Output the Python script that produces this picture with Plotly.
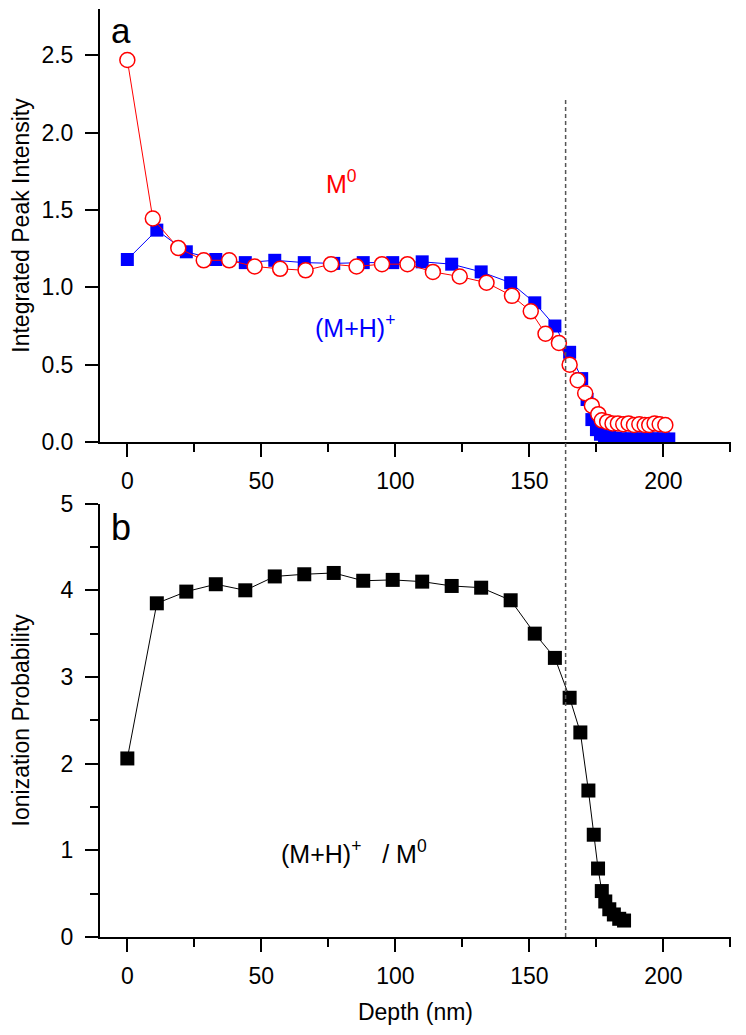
import plotly.graph_objects as go

# ---- data ----
depth_mh = [0, 11, 22, 33, 44, 55, 66, 77, 88, 99, 110, 121, 132, 143, 152, 159.5, 165, 169.5,
            171.5, 173.3, 175, 176.5, 178, 180, 182, 184, 186, 188, 190, 192, 194, 196, 198, 200, 202]
int_mh = [1.18, 1.37, 1.23, 1.18, 1.16, 1.175, 1.16, 1.155, 1.16, 1.16, 1.165, 1.15, 1.10, 1.03,
          0.90, 0.75, 0.58, 0.41, 0.275, 0.145, 0.08, 0.05, 0.035, 0.03, 0.025, 0.02, 0.02, 0.02,
          0.02, 0.02, 0.02, 0.02, 0.02, 0.02, 0.02]

depth_m0 = [0, 9.5, 19, 28.5, 38, 47.5, 57, 66.5, 76, 85.5, 95, 104.5, 114, 124, 134, 143.5, 150.5,
            156, 161, 165, 168, 170.8, 173.3, 175.7, 177, 179, 181, 183, 185, 187, 189, 191, 193,
            194.7, 196.7, 198.6, 200.7]
int_m0 = [2.47, 1.445, 1.255, 1.175, 1.175, 1.135, 1.12, 1.11, 1.15, 1.135, 1.15, 1.15, 1.10, 1.07,
          1.03, 0.945, 0.845, 0.70, 0.64, 0.50, 0.40, 0.315, 0.235, 0.18, 0.14, 0.13, 0.12, 0.12,
          0.115, 0.12, 0.11, 0.115, 0.11, 0.11, 0.12, 0.115, 0.11]

depth_ratio = [0, 11, 22, 33, 44, 55, 66, 77, 88, 99, 110, 121, 132, 143, 152, 159.5, 165, 169,
               172, 174, 175.6, 177, 178.3, 179.8, 181.5, 183.5, 185.3]
ratio = [2.06, 3.85, 3.985, 4.07, 4.0, 4.16, 4.185, 4.2, 4.11, 4.12, 4.10, 4.05, 4.03, 3.885, 3.50,
         3.22, 2.76, 2.36, 1.69, 1.18, 0.79, 0.53, 0.41, 0.32, 0.26, 0.21, 0.19]

interface_depth = 163.5
x_ticks = [0, 50, 100, 150, 200]
y1_ticks = [0.0, 0.5, 1.0, 1.5, 2.0, 2.5]
y2_ticks = [0, 1, 2, 3, 4, 5]

REG = "Liberation Sans, Arial, Helvetica, sans-serif"

fig = go.Figure()
fig.add_trace(go.Scatter(x=depth_mh, y=int_mh, mode="lines+markers", xaxis="x", yaxis="y",
                         line=dict(color="#0000FF", width=1),
                         marker=dict(symbol="square", size=13, color="#0000FF", line=dict(width=0)),
                         showlegend=False))
fig.add_trace(go.Scatter(x=depth_m0, y=int_m0, mode="lines+markers", xaxis="x", yaxis="y",
                         line=dict(color="#FF0000", width=1),
                         marker=dict(symbol="circle", size=15, color="white",
                                     line=dict(color="#FF0000", width=1.5)),
                         showlegend=False))
fig.add_trace(go.Scatter(x=depth_ratio, y=ratio, mode="lines+markers", xaxis="x2", yaxis="y2",
                         line=dict(color="black", width=1),
                         marker=dict(symbol="square", size=14, color="black", line=dict(width=0)),
                         showlegend=False))

axis_common = dict(showline=True, linecolor="black", linewidth=2, ticks="outside", ticklen=13,
                   tickwidth=2, tickcolor="black", showgrid=False, zeroline=False,
                   automargin=False,
                   tickfont=dict(family=REG, size=23, color="black"))
minor_x = dict(ticks="outside", ticklen=8, tickwidth=2, tickcolor="black", dtick=25, tick0=0)

fig.update_layout(
    width=738, height=1027,
    margin=dict(l=92, r=15, t=1, b=98),
    paper_bgcolor="white", plot_bgcolor="white",
    font=dict(family=REG, color="black"),
    xaxis=dict(domain=[0, 1], range=[-10.2, 225.2], anchor="y", tickvals=x_ticks,
               minor=minor_x, ticklabelstandoff=4, **axis_common),
    yaxis=dict(domain=[0.5334, 1], range=[0, 2.8], anchor="x", tickvals=y1_ticks,
               tickformat=".1f", ticklabelstandoff=7,
               title=dict(text="Integrated Peak Intensity",
                          font=dict(family=REG, size=23, color="black"), standoff=12),
               **axis_common),
    xaxis2=dict(domain=[0, 1], range=[-10.2, 225.2], anchor="y2", tickvals=x_ticks,
                minor=minor_x, ticklabelstandoff=4,
                title=dict(text="Depth (nm)", font=dict(family=REG, size=23, color="black"),
                           standoff=16),
                **axis_common),
    yaxis2=dict(domain=[0, 0.467], range=[0, 5], anchor="x2", tickvals=y2_ticks,
                minor=dict(ticks="outside", ticklen=8, tickwidth=2, tickcolor="black",
                           dtick=0.5, tick0=0),
                ticklabelstandoff=7,
                title=dict(text="Ionization Probability",
                           font=dict(family=REG, size=23, color="black"), standoff=31),
                **axis_common),
)

fig.add_shape(type="line", xref="x", yref="paper", x0=interface_depth, x1=interface_depth,
              y0=0, y1=0.905, line=dict(color="#555555", width=1.5, dash="4px,3px"))

ann_font = dict(family=REG, size=25)
fig.add_annotation(text="a", xref="paper", yref="paper", x=0.033, y=1.0, xanchor="center",
                   yanchor="top", showarrow=False, font=dict(family=REG, size=35, color="black"))
fig.add_annotation(text="b", xref="paper", yref="paper", x=0.033, y=0.466, xanchor="center",
                   yanchor="top", showarrow=False, font=dict(family=REG, size=36, color="black"))
fig.add_annotation(text="M<sup>0</sup>", xref="x", yref="y", x=80, y=1.68, showarrow=False,
                   font=dict(color="#FF0000", **ann_font))
fig.add_annotation(text="(M+H)<sup>+</sup>", xref="x", yref="y", x=85, y=0.75, showarrow=False,
                   font=dict(color="#0000FF", **ann_font))
fig.add_annotation(text="(M+H)<sup>+</sup>\u00a0\u00a0\u00a0/ M<sup>0</sup>", xref="x2", yref="y2",
                   x=84.5, y=0.98, showarrow=False, font=dict(color="black", **ann_font))

fig.write_html("out.html")
